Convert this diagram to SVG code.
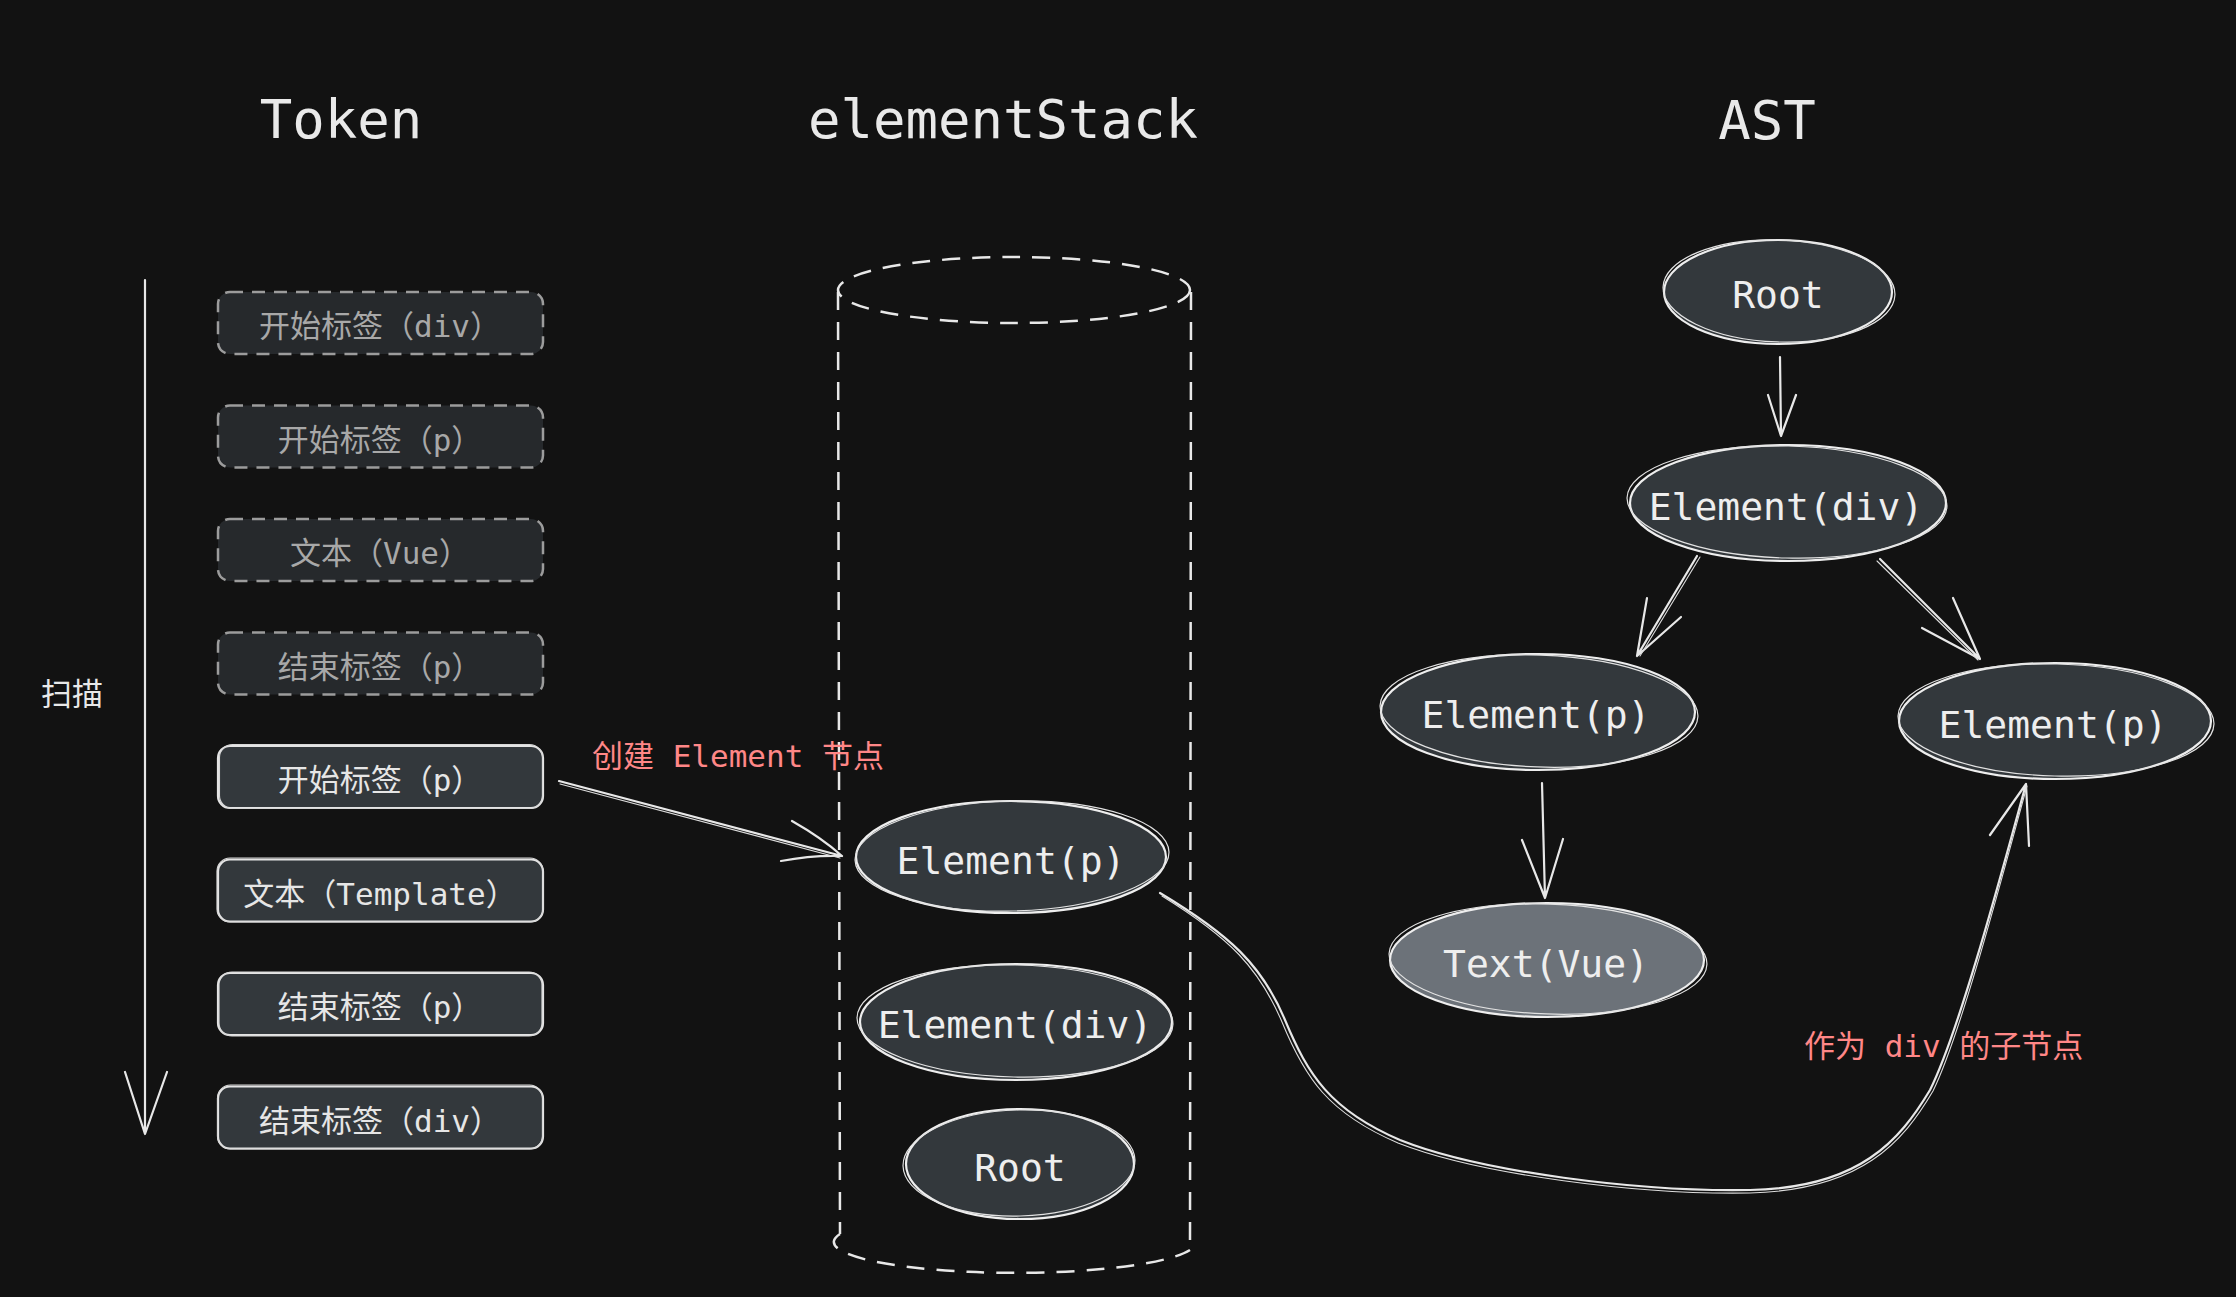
<svg xmlns="http://www.w3.org/2000/svg" width="2236" height="1297" viewBox="0 0 2236 1297">
  <style>
    .title { font-family: "DejaVu Sans Mono", "Noto Sans CJK SC", monospace; font-size: 54px; fill: #e9e9e9; text-anchor: middle; }
    .tk { fill: #33383c; stroke: #e4e4e4; stroke-width: 2.2; }
    .tkd { fill: #26292c; stroke: #9c9c9c; stroke-width: 2.5; stroke-dasharray: 13 9; }
    .tks { fill: none; stroke: #d8d8d8; stroke-width: 1.1; }
    .tkt { font-family: "DejaVu Sans Mono", "Noto Sans CJK SC", monospace; font-size: 31px; fill: #e6e6e6; text-anchor: middle; }
    .tkdt { fill: #a8a8a8; }
    .nd { fill: #33383c; stroke: #eeeeee; stroke-width: 2.2; }
    .ndl { fill: #6c7279; stroke: #eeeeee; stroke-width: 2.2; }
    .sk { fill: none; stroke: #e2e2e2; stroke-width: 1.2; }
    .lbl { font-family: "DejaVu Sans Mono", "Noto Sans CJK SC", monospace; font-size: 38px; fill: #eeeeee; text-anchor: middle; }
    .red { font-family: "DejaVu Sans Mono", "Noto Sans CJK SC", monospace; font-size: 31px; fill: #ff8787; }
    .side { font-family: "DejaVu Sans Mono", "Noto Sans CJK SC", monospace; font-size: 31px; fill: #e8e8e8; text-anchor: middle; }
    .ln { fill: none; stroke: #e8e8e8; stroke-width: 2.2; stroke-linecap: round; stroke-linejoin: round; }
    .ln2 { fill: none; stroke: #dcdcdc; stroke-width: 1.1; stroke-linecap: round; }
    .cyl { fill: none; stroke: #e8e8e8; stroke-width: 2.5; stroke-dasharray: 18 12; }
  </style>

  <rect width="2236" height="1297" fill="#121212"/>

  <!-- column titles -->
  <g id="titles">
    <text class="title" x="341" y="138">Token</text>
    <text class="title" x="1003" y="138">elementStack</text>
    <text class="title" x="1767" y="139">AST</text>
  </g>

  <!-- scan direction -->
  <g id="scan">
    <text class="side" x="72" y="705">扫描</text>
    <path class="ln" d="M145,280 L145,1134 M125,1072 L145,1134 L167,1072"/>
  </g>

  <!-- token list: consumed tokens dashed, pending tokens solid -->
  <g id="token-1">
    <rect class="tkd" x="218" y="292" width="325" height="62" rx="12"/>
    <text class="tkt tkdt" x="380" y="337">开始标签（div）</text>
  </g>
  <g id="token-2">
    <rect class="tkd" x="218" y="405.5" width="325" height="62" rx="12"/>
    <text class="tkt tkdt" x="380" y="450.5">开始标签（p）</text>
  </g>
  <g id="token-3">
    <rect class="tkd" x="218" y="519" width="325" height="62" rx="12"/>
    <text class="tkt tkdt" x="380" y="564">文本（Vue）</text>
  </g>
  <g id="token-4">
    <rect class="tkd" x="218" y="632.5" width="325" height="62" rx="12"/>
    <text class="tkt tkdt" x="380" y="677.5">结束标签（p）</text>
  </g>
  <g id="token-5">
    <rect class="tk" x="218" y="746" width="325" height="62" rx="12"/>
    <rect class="tks" x="219.5" y="744.5" width="323" height="64" rx="13"/>
    <text class="tkt" x="380" y="791">开始标签（p）</text>
  </g>
  <g id="token-6">
    <rect class="tk" x="218" y="859.5" width="325" height="62" rx="12"/>
    <rect class="tks" x="217" y="858" width="326" height="64" rx="13"/>
    <text class="tkt" x="380" y="904.5">文本（Template）</text>
  </g>
  <g id="token-7">
    <rect class="tk" x="218" y="973" width="325" height="62" rx="12"/>
    <rect class="tks" x="219" y="972" width="323" height="64" rx="13"/>
    <text class="tkt" x="380" y="1018">结束标签（p）</text>
  </g>
  <g id="token-8">
    <rect class="tk" x="218" y="1086.5" width="325" height="62" rx="12"/>
    <rect class="tks" x="217.5" y="1085" width="325" height="64" rx="13"/>
    <text class="tkt" x="380" y="1131.5">结束标签（div）</text>
  </g>

  <!-- element stack container -->
  <g id="stack">
    <ellipse class="cyl" cx="1014" cy="290" rx="176" ry="33"/>
    <path class="cyl" d="M838,292 L840,1234 M1191,292 L1190,1250 M840,1234 A176,30 0 0 0 1190,1250"/>
  </g>

  <g id="stack-element-p">
    <ellipse class="nd" cx="1011" cy="857" rx="155" ry="56"/>
    <ellipse class="sk" cx="1012" cy="856" rx="157" ry="55" transform="rotate(-1.5 1012 856)"/>
    <text class="lbl" x="1011" y="874">Element(p)</text>
  </g>
  <g id="stack-element-div">
    <ellipse class="nd" cx="1016" cy="1022" rx="156" ry="58"/>
    <ellipse class="sk" cx="1015" cy="1021" rx="158" ry="56" transform="rotate(1.2 1015 1021)"/>
    <text class="lbl" x="1015" y="1038">Element(div)</text>
  </g>
  <g id="stack-root">
    <ellipse class="nd" cx="1020" cy="1164" rx="114" ry="55"/>
    <ellipse class="sk" cx="1019" cy="1163" rx="116" ry="53" transform="rotate(-1.5 1019 1163)"/>
    <text class="lbl" x="1020" y="1181">Root</text>
  </g>

  <!-- AST -->
  <g id="ast-root">
    <ellipse class="nd" cx="1778" cy="292" rx="114" ry="52"/>
    <ellipse class="sk" cx="1779" cy="291" rx="116" ry="51" transform="rotate(2 1779 291)"/>
    <text class="lbl" x="1778" y="308">Root</text>
  </g>
  <g id="ast-element-div">
    <ellipse class="nd" cx="1788" cy="503" rx="158" ry="58"/>
    <ellipse class="sk" cx="1787" cy="502" rx="160" ry="56" transform="rotate(1.5 1787 502)"/>
    <text class="lbl" x="1786" y="520">Element(div)</text>
  </g>
  <g id="ast-element-p-left">
    <ellipse class="nd" cx="1538" cy="712" rx="157" ry="58"/>
    <ellipse class="sk" cx="1539" cy="711" rx="159" ry="56" transform="rotate(2 1539 711)"/>
    <text class="lbl" x="1536" y="728">Element(p)</text>
  </g>
  <g id="ast-element-p-right">
    <ellipse class="nd" cx="2055" cy="721" rx="156" ry="58"/>
    <ellipse class="sk" cx="2056" cy="720" rx="158" ry="56" transform="rotate(1.5 2056 720)"/>
    <text class="lbl" x="2053" y="738">Element(p)</text>
  </g>
  <g id="ast-text-vue">
    <ellipse class="ndl" cx="1547" cy="960" rx="157" ry="57"/>
    <ellipse class="sk" cx="1548" cy="959" rx="159" ry="55" transform="rotate(2 1548 959)"/>
    <text class="lbl" x="1546" y="977">Text(Vue)</text>
  </g>

  <!-- connectors -->
  <g id="connectors">
    <path class="ln" d="M559,781 L842,856 M792,821 Q822,838 842,856 M781,861 Q812,855 842,856"/>
    <path class="ln2" d="M560,784 L840,858"/>

    <path class="ln" d="M1780,357 L1781,436 M1768,395 L1781,436 L1796,395"/>
    <path class="ln" d="M1697,556 L1637,656 M1647,598 L1637,656 L1681,617"/>
    <path class="ln2" d="M1700,557 L1640,656"/>
    <path class="ln" d="M1880,559 L1980,659 M1953,598 L1980,659 L1922,628"/>
    <path class="ln2" d="M1877,561 L1978,660"/>
    <path class="ln" d="M1542,783 L1545,898 M1522,840 L1545,898 L1563,839"/>

    <path class="ln" d="M1160,893 C1230,935 1262,965 1285,1020 C1308,1075 1330,1110 1400,1140 C1480,1172 1640,1192 1750,1190 C1860,1188 1900,1140 1930,1090 C1960,1030 2005,860 2026,784 M1990,835 L2026,784 L2029,846"/>
    <path class="ln2" d="M1162,896 C1230,938 1259,968 1282,1022 C1305,1078 1328,1113 1398,1143 C1480,1175 1640,1195 1750,1193 C1862,1190 1903,1142 1933,1091 C1962,1032 2006,862 2027,786"/>
  </g>

  <!-- annotations -->
  <g id="labels">
    <text class="red" x="592" y="767">创建 Element 节点</text>
    <text class="red" x="1804" y="1057">作为 div 的子节点</text>
  </g>
</svg>
